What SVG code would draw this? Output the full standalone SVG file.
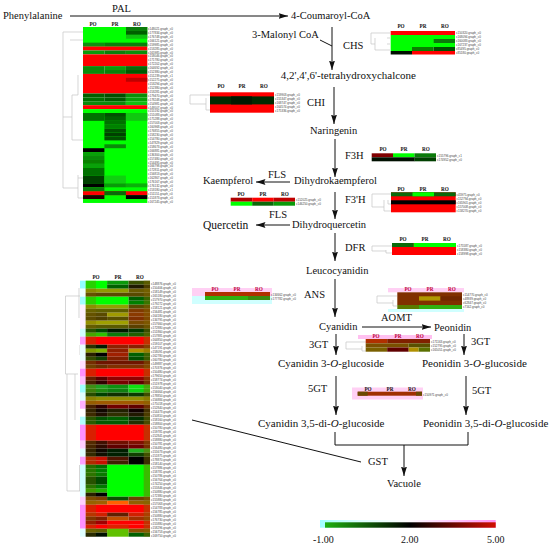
<svg xmlns="http://www.w3.org/2000/svg" width="550" height="547" viewBox="0 0 550 547">
<style>
text{font-family:"Liberation Serif","Times New Roman",serif;fill:#111}
.t{font-size:10.5px}
.g{font-size:11px}
.h{font-size:5.2px;font-weight:bold}
.p{font-size:5.2px;font-weight:bold;fill:#c00040}
.l{font-size:3px;font-family:"Liberation Sans",Arial,sans-serif;fill:#444}
.R{fill:#f00}.G{fill:#0f0}
.c{fill:none;stroke:#111;stroke-width:1}
.a{fill:none;stroke:#111;stroke-width:1;marker-end:url(#ah)}
.d{fill:none;stroke:#c4c4c4;stroke-width:.7}
</style>
<defs>
<marker id="ah" markerUnits="userSpaceOnUse" markerWidth="10" markerHeight="7" refX="9.5" refY="3" orient="auto"><path d="M0 0L9.5 3L0 6L1.5 3Z" fill="#111"/></marker>
<linearGradient id="lg"><stop offset="0" stop-color="#20b010"/><stop offset=".5" stop-color="#000"/><stop offset="1" stop-color="#d01000"/></linearGradient>
<linearGradient id="lt"><stop offset="0" stop-color="#a0ffff"/><stop offset=".24" stop-color="#e0ffff"/><stop offset=".5" stop-color="#fff"/><stop offset=".72" stop-color="#ffd0ff"/><stop offset="1" stop-color="#ff90f0"/></linearGradient>
</defs>

<g id="connectors">
<path class="a" d="M70 16H288"/>
<path class="c" d="M320 40L332 46"/>
<path class="a" d="M332 27V70"/>
<path class="a" d="M334 87V124"/>
<path class="a" d="M335 139V177"/>
<path class="a" d="M290 182H256"/>
<path class="a" d="M335 192V219"/>
<path class="a" d="M290 225H256"/>
<path class="a" d="M335 233V261"/>
<path class="a" d="M335 279V317"/>
<path class="a" d="M362 327H431"/>
<path class="a" d="M336 334V355"/>
<path class="a" d="M464 334V355"/>
<path class="a" d="M336 376V415"/>
<path class="a" d="M466 376V415"/>
<path class="c" d="M335 432V445H468V432"/>
<path class="a" d="M404 445V476"/>
<path class="c" d="M192 420L361 462"/>
</g>

<g id="labels">
<text class="t" x="3" y="19">Phenylalanine</text>
<text class="t" x="112" y="12">PAL</text>
<text class="t" x="291" y="19">4-Coumaroyl-CoA</text>
<text class="t" x="252" y="38">3-Malonyl CoA</text>
<text class="t" x="343" y="49">CHS</text>
<text class="g" x="416" y="79" text-anchor="end">4,2',4',6'-tetrahydroxychalcone</text>
<text class="t" x="307" y="106">CHI</text>
<text class="t" x="310" y="134">Naringenin</text>
<text class="t" x="345" y="159">F3H</text>
<text class="t" x="268" y="178">FLS</text>
<text class="t" x="203" y="184">Kaempferol</text>
<text class="t" x="294" y="184">Dihydrokaempferol</text>
<text class="t" x="345" y="203">F3'H</text>
<text class="t" x="269" y="218">FLS</text>
<text class="t" x="203" y="229" style="font-size:11.500px">Quercetin</text>
<text class="t" x="292" y="228">Dihydroquercetin</text>
<text class="t" x="345" y="251">DFR</text>
<text class="t" x="306" y="274">Leucocyanidin</text>
<text class="t" x="304" y="298">ANS</text>
<text class="t" x="381" y="321">AOMT</text>
<text class="t" x="319" y="330">Cyanidin</text>
<text class="t" x="434" y="331">Peonidin</text>
<text class="t" x="309" y="348">3GT</text>
<text class="t" x="471" y="345">3GT</text>
<text class="g" x="278" y="367">Cyanidin 3-<tspan font-style="italic">O</tspan>-glucoside</text>
<text class="g" x="422" y="367">Peonidin 3-<tspan font-style="italic">O</tspan>-glucoside</text>
<text class="t" x="308" y="392">5GT</text>
<text class="t" x="472" y="394">5GT</text>
<text class="g" x="258" y="427">Cyanidin 3,5-di-<tspan font-style="italic">O</tspan>-glucoside</text>
<text class="g" x="423" y="427">Peonidin 3,5-di-<tspan font-style="italic">O</tspan>-glucoside</text>
<text class="t" x="368" y="465">GST</text>
<text class="t" x="387" y="487">Vacuole</text>
</g>

<g id="hm-pal">
<path class="d" d="M83 32H63V188H78M70 40H83M63 117H72M72 95V140H83M72 95H78V75M78 178H83M78 175V198H83"/>
<text class="h" x="93" y="26" text-anchor="middle">PO</text><text class="h" x="115" y="26" text-anchor="middle">PR</text><text class="h" x="137" y="26" text-anchor="middle">RO</text>
<g transform="translate(83 27) scale(1 3.91)">
<rect class="G" width="64.3" height="5"/><rect x="43" width="21.3" height="1" fill="#0a7a0a"/><rect x="43" y="1" width="21.3" height="1" fill="#006000"/><rect x="43" y="2" width="21.3" height="1" fill="#10c010"/>
<rect y="4" width="21.4" height="1" fill="#109010"/><rect x="21.4" y="4" width="42.9" height="1" fill="#0a800a"/>
<rect class="R" y="5" width="64.3" height="1"/>
<rect y="6" width="21.4" height="1" fill="#0a9a0a"/><rect x="21.4" y="6" width="21.5" height="1" fill="#0a800a"/><rect x="42.9" y="6" width="21.4" height="1" fill="#0a900a"/>
<rect class="R" y="7" width="64.3" height="3"/>
<rect y="10" width="21.4" height="1" fill="#0a8a0a"/><rect x="21.4" y="10" width="21.5" height="1" fill="#0a9a0a"/><rect x="42.9" y="10" width="21.4" height="1" fill="#0a6a0a"/>
<rect y="11" width="21.4" height="1" fill="#0a8a0a"/><rect x="21.4" y="11" width="21.5" height="1" fill="#0a800a"/><rect x="42.9" y="11" width="21.4" height="1" fill="#005a00"/>
<rect class="R" y="12" width="64.3" height="5"/><rect x="42.9" y="13" width="21.4" height="1" fill="#c00000"/>
<rect y="17" width="21.4" height="1" fill="#006000"/><rect x="21.4" y="17" width="21.5" height="1" fill="#005000"/><rect x="42.9" y="17" width="21.4" height="1" fill="#0a900a"/>
<rect y="18" width="21.4" height="1" fill="#007000"/><rect x="21.4" y="18" width="21.5" height="1" fill="#005a00"/><rect x="42.9" y="18" width="21.4" height="1" fill="#0aa00a"/>
<rect y="19" width="42.9" height="1" fill="#0a8a0a"/><rect x="42.9" y="19" width="21.4" height="1" fill="#10c010"/>
<rect class="R" y="20" width="64.3" height="1"/>
<rect class="G" y="21" width="64.3" height="24"/>
<rect y="22" width="21.4" height="2" fill="#007000"/><rect x="21.4" y="22" width="21.5" height="1" fill="#005000"/><rect x="21.4" y="23" width="21.5" height="1" fill="#006000"/><rect x="42.9" y="22" width="21.4" height="2" fill="#10c810"/>
<rect x="21.4" y="24" width="21.5" height="1" fill="#007000"/><rect x="21.4" y="25" width="21.5" height="1" fill="#008000"/><rect x="21.4" y="26" width="21.5" height="1" fill="#005000"/><rect x="21.4" y="27" width="21.5" height="1" fill="#004000"/><rect x="21.4" y="28" width="21.5" height="1" fill="#005000"/><rect x="21.4" y="30" width="21.5" height="1" fill="#0a8a0a"/>
<rect y="31" width="21.4" height="1" fill="#000"/><rect y="32" width="21.4" height="1" fill="#0aa00a"/><rect y="33" width="21.4" height="1" fill="#0a8a0a"/><rect y="34" width="21.4" height="1" fill="#0a8000"/><rect y="35" width="21.4" height="1" fill="#0aa00a"/><rect y="36" width="21.4" height="2" fill="#007000"/><rect y="38" width="21.4" height="2" fill="#004000"/>
<rect x="21.4" y="38" width="21.5" height="2" fill="#10d010"/>
<rect y="40" width="21.4" height="1" fill="#000"/><rect x="21.4" y="40" width="21.5" height="1" fill="#0a9a0a"/><rect x="42.9" y="40" width="21.4" height="1" fill="#0ab00a"/>
<rect y="41" width="21.4" height="1" fill="#0a7a0a"/>
<rect class="R" y="42" width="64.3" height="1"/><rect x="21.4" y="42" width="21.5" height="1" fill="#0a6a0a"/>
<rect y="43" width="21.4" height="1" fill="#200000"/><rect x="42.9" y="43" width="21.4" height="1" fill="#000"/>
</g>
<text class="l" x="148" y="30">c148021.graph_c0</text><text class="l" x="148" y="34">c177834.graph_c0</text><text class="l" x="148" y="38">c176748.graph_c0</text><text class="l" x="148" y="42">c166121.graph_c0</text><text class="l" x="148" y="46">c159985.graph_c0</text><text class="l" x="148" y="50">c153285.graph_c0</text><text class="l" x="148" y="54">c165985.graph_c0</text><text class="l" x="148" y="57">c158046.graph_c0</text><text class="l" x="148" y="61">c171780.graph_c0</text><text class="l" x="148" y="65">c172202.graph_c0</text><text class="l" x="148" y="69">c164692.graph_c0</text><text class="l" x="148" y="73">c152380.graph_c0</text><text class="l" x="148" y="77">c151239.graph_c1</text><text class="l" x="148" y="81">c152275.graph_c0</text><text class="l" x="148" y="85">c153294.graph_c0</text><text class="l" x="148" y="89">c152380.graph_c0</text><text class="l" x="148" y="93">c153281.graph_c0</text><text class="l" x="148" y="97">c179470.graph_c0</text><text class="l" x="148" y="101">c178248.graph_c0</text><text class="l" x="148" y="105">c154981.graph_c0</text><text class="l" x="148" y="109">c149507.graph_c0</text><text class="l" x="148" y="112">c155192.graph_c0</text><text class="l" x="148" y="116">c151083.graph_c0</text><text class="l" x="148" y="120">c175288.graph_c0</text><text class="l" x="148" y="124">c157003.graph_c0</text><text class="l" x="148" y="128">c160968.graph_c0</text><text class="l" x="148" y="132">c176855.graph_c0</text><text class="l" x="148" y="136">c158230.graph_c0</text><text class="l" x="148" y="140">c154780.graph_c0</text><text class="l" x="148" y="144">c147829.graph_c0</text><text class="l" x="148" y="148">c158673.graph_c0</text><text class="l" x="148" y="152">c166881.graph_c0</text><text class="l" x="148" y="156">c136300.graph_c0</text><text class="l" x="148" y="160">c157480.graph_c0</text><text class="l" x="148" y="164">c154495.graph_c0</text><text class="l" x="148" y="167">c166798.graph_c0</text><text class="l" x="148" y="171">c172811.graph_c0</text><text class="l" x="148" y="175">c156813.graph_c0</text><text class="l" x="148" y="179">c162867.graph_c0</text><text class="l" x="148" y="183">c176167.graph_c0</text><text class="l" x="148" y="187">c176132.graph_c0</text><text class="l" x="148" y="191">c153180.graph_c1</text><text class="l" x="148" y="195">c151151.graph_c0</text><text class="l" x="148" y="199">c151873.graph_c0</text><text class="l" x="148" y="203">c167245.graph_c0</text>
</g>

<g id="hm-gst">
<path class="d" d="M80 296H65.500V374H78M67 374V491H80M79.500 465V491M79 288V318M80 345V355H84M75 374V420"/>
<text class="h" x="96" y="279" text-anchor="middle">PO</text><text class="h" x="118" y="279" text-anchor="middle">PR</text><text class="h" x="140" y="279" text-anchor="middle">RO</text>
<g transform="translate(80 280.700) scale(1 4)">
<rect width="5.700" height="2" fill="#90ffff"/><rect y="2" width="5.700" height="2" fill="#f0ffff"/><rect y="4" width="5.700" height="2" fill="#a0ffff"/><rect y="6" width="5.700" height="6" fill="#fff0ff"/><rect y="12" width="5.700" height="2" fill="#d0ffff"/><rect y="14" width="5.700" height="2" fill="#ffa0ff"/><rect y="16" width="5.700" height="4" fill="#e8ffff"/><rect y="20" width="5.700" height="2" fill="#ffe0ff"/><rect y="22" width="5.700" height="2" fill="#ff90ff"/><rect y="24" width="5.700" height="2" fill="#ffc0ff"/><rect y="26" width="5.700" height="2" fill="#a0ffff"/><rect y="28" width="5.700" height="2" fill="#e0ffff"/><rect y="30" width="5.700" height="2" fill="#ffb0ff"/><rect y="34" width="5.700" height="2" fill="#b0ffff"/><rect y="36" width="5.700" height="4" fill="#ff90ff"/><rect y="40" width="5.700" height="2" fill="#ffd0ff"/><rect y="42" width="5.700" height="2" fill="#e0ffff"/><rect y="44" width="5.700" height="2" fill="#ffa0ff"/><rect y="46" width="5.700" height="8" fill="#d0ffff"/><rect y="54" width="5.700" height="2" fill="#ffd0ff"/><rect y="56" width="5.700" height="6" fill="#ff90ff"/><rect y="62" width="5.700" height="2" fill="#e0ffff"/>
</g>
<g transform="translate(85.700 280.700) scale(1 4)">
<rect class="G" y="0" width="21.400" height="2"/><rect x="21.400" y="0" width="21.500" height="1" fill="#0a9a0a"/><rect x="42.900" y="0" width="21.400" height="1" fill="#3a5000"/>
<rect x="21.400" y="1" width="21.500" height="1" fill="#006000"/><rect x="42.900" y="1" width="21.400" height="1" fill="#201a00"/>
<rect y="2" width="42.900" height="1" fill="#909a00"/><rect x="42.900" y="2" width="21.400" height="1" fill="#6a5a00"/>
<rect y="3" width="64.300" height="1" fill="#5a4a00"/>
<rect class="G" y="4" width="42.900" height="2"/><rect x="42.900" y="4" width="21.400" height="1" fill="#006000"/><rect x="42.900" y="5" width="21.400" height="1" fill="#008000"/>
<rect y="6" width="42.900" height="1" fill="#90a000"/><rect x="42.900" y="6" width="21.400" height="1" fill="#5a4a00"/>
<rect y="7" width="42.900" height="1" fill="#606000"/><rect x="42.900" y="7" width="21.400" height="1" fill="#803a00"/>
<rect y="8" width="21.400" height="1" fill="#5a4a00"/><rect x="21.400" y="8" width="21.500" height="1" fill="#a09a00"/><rect x="42.900" y="8" width="21.400" height="1" fill="#8a3a00"/>
<rect y="9" width="21.400" height="1" fill="#504000"/><rect x="21.400" y="9" width="21.500" height="1" fill="#5a5000"/><rect x="42.900" y="9" width="21.400" height="1" fill="#803000"/>
<rect y="10" width="42.900" height="1" fill="#a0a000"/><rect x="42.900" y="10" width="21.400" height="1" fill="#7a4a00"/>
<rect y="11" width="42.900" height="1" fill="#5a5a00"/><rect x="42.900" y="11" width="21.400" height="1" fill="#5a4000"/>
<rect y="12" width="21.400" height="1" fill="#004a00"/><rect x="21.400" y="12" width="21.500" height="1" fill="#001a00"/><rect x="42.900" y="12" width="21.400" height="1" fill="#003a00"/>
<rect y="13" width="21.400" height="1" fill="#30c000"/><rect x="21.400" y="13" width="21.500" height="1" fill="#0a7a0a"/><rect x="42.900" y="13" width="21.400" height="1" fill="#206000"/>
<rect class="R" y="14" width="64.300" height="2"/>
<rect y="16" width="21.400" height="1" fill="#001a00"/><rect x="21.400" y="16" width="21.500" height="1" fill="#902000"/><rect x="42.900" y="16" width="21.400" height="1" fill="#8a2000"/>
<rect y="17" width="21.400" height="1" fill="#80b000"/><rect x="21.400" y="17" width="21.500" height="1" fill="#902000"/><rect x="42.900" y="17" width="21.400" height="1" fill="#b09000"/>
<rect y="18" width="21.400" height="1" fill="#000"/><rect x="21.400" y="18" width="21.500" height="1" fill="#a02000"/><rect x="42.900" y="18" width="21.400" height="1" fill="#006000"/>
<rect y="19" width="21.400" height="1" fill="#104000"/><rect x="21.400" y="19" width="21.500" height="1" fill="#802000"/><rect x="42.900" y="19" width="21.400" height="1" fill="#005000"/>
<rect y="20" width="64.300" height="1" fill="#701500"/>
<rect y="21" width="21.400" height="1" fill="#6a3000"/><rect x="21.400" y="21" width="42.900" height="1" fill="#803000"/>
<rect class="R" y="22" width="64.300" height="2"/>
<rect y="24" width="21.400" height="1" fill="#5a0000"/><rect x="21.400" y="24" width="42.900" height="1" fill="#900000"/>
<rect y="25" width="21.400" height="1" fill="#300000"/><rect x="21.400" y="25" width="21.500" height="1" fill="#7a0000"/><rect x="42.900" y="25" width="21.400" height="1" fill="#600000"/>
<rect y="26" width="21.400" height="1" fill="#20a020"/><rect x="21.400" y="26" width="21.500" height="1" fill="#109010"/><rect x="42.900" y="26" width="21.400" height="1" fill="#10e010"/>
<rect y="27" width="21.400" height="1" fill="#208a10"/><rect x="21.400" y="27" width="21.500" height="1" fill="#108010"/><rect x="42.900" y="27" width="21.400" height="1" fill="#10d010"/>
<rect y="28" width="21.400" height="1" fill="#004000"/><rect x="21.400" y="28" width="21.500" height="1" fill="#103000"/><rect x="42.900" y="28" width="21.400" height="1" fill="#0a3a00"/>
<rect y="29" width="64.300" height="1" fill="#8e8e00"/>
<rect y="30" width="64.300" height="1" fill="#a05a00"/>
<rect y="31" width="21.400" height="1" fill="#300000"/><rect x="21.400" y="31" width="21.500" height="1" fill="#700000"/><rect x="42.900" y="31" width="21.400" height="1" fill="#600000"/>
<rect y="32" width="21.400" height="1" fill="#100800"/><rect x="21.400" y="32" width="21.500" height="1" fill="#202000"/><rect x="42.900" y="32" width="21.400" height="1" fill="#100000"/>
<rect y="33" width="21.400" height="1" fill="#201000"/><rect x="21.400" y="33" width="21.500" height="1" fill="#303000"/><rect x="42.900" y="33" width="21.400" height="1" fill="#201800"/>
<rect y="34" width="21.400" height="1" fill="#005000"/><rect x="21.400" y="34" width="21.500" height="1" fill="#006000"/><rect x="42.900" y="34" width="21.400" height="1" fill="#003000"/>
<rect y="35" width="42.900" height="1" fill="#005a00"/><rect x="42.900" y="35" width="21.400" height="1" fill="#203000"/>
<rect class="R" y="36" width="64.300" height="4"/>
<rect y="40" width="21.400" height="1" fill="#401000"/><rect x="21.400" y="40" width="21.500" height="1" fill="#701000"/><rect x="42.900" y="40" width="21.400" height="1" fill="#801000"/>
<rect y="41" width="21.400" height="1" fill="#300a00"/><rect x="21.400" y="41" width="21.500" height="1" fill="#600000"/><rect x="42.900" y="41" width="21.400" height="1" fill="#700000"/>
<rect y="42" width="21.400" height="1" fill="#100800"/><rect x="21.400" y="42" width="21.500" height="1" fill="#002000"/><rect x="42.900" y="42" width="21.400" height="1" fill="#20b020"/>
<rect y="43" width="21.400" height="1" fill="#101000"/><rect x="21.400" y="43" width="21.500" height="1" fill="#002000"/><rect x="42.900" y="43" width="21.400" height="1" fill="#104000"/>
<rect y="44" width="21.400" height="1" fill="#c81000"/><rect x="21.400" y="44" width="21.500" height="1" fill="#501500"/><rect x="42.900" y="44" width="21.400" height="2" fill="#000"/>
<rect y="45" width="21.400" height="1" fill="#c81000"/><rect x="21.400" y="45" width="21.500" height="1" fill="#402000"/>
<rect class="G" x="21.400" y="46" width="42.900" height="8"/>
<rect y="46" width="21.400" height="1" fill="#007000"/><rect y="47" width="21.400" height="1" fill="#008000"/><rect y="48" width="21.400" height="1" fill="#0a7a00"/><rect y="49" width="21.400" height="2" fill="#004a00"/><rect y="51" width="21.400" height="1" fill="#007a00"/><rect y="52" width="21.400" height="1" fill="#20b000"/><rect y="53" width="21.400" height="1" fill="#000"/>
<rect y="54" width="21.400" height="1" fill="#7a4000"/><rect x="21.400" y="54" width="21.500" height="1" fill="#0a5000"/><rect x="42.900" y="54" width="21.400" height="1" fill="#6a4000"/>
<rect y="55" width="21.400" height="1" fill="#a06000"/><rect x="21.400" y="55" width="21.500" height="1" fill="#ff6000"/><rect x="42.900" y="55" width="21.400" height="1" fill="#906000"/>
<rect class="R" y="56" width="64.300" height="2"/>
<rect y="58" width="21.400" height="1" fill="#d02000"/><rect x="21.400" y="58" width="21.500" height="1" fill="#602000"/><rect x="42.900" y="58" width="21.400" height="1" fill="#d02000"/>
<rect y="59" width="21.400" height="1" fill="#802000"/><rect x="21.400" y="59" width="21.500" height="1" fill="#c05000"/><rect x="42.900" y="59" width="21.400" height="1" fill="#a03000"/>
<rect y="60" width="21.400" height="1" fill="#a00000"/><rect class="R" x="21.400" y="60" width="42.900" height="1"/>
<rect class="R" y="61" width="64.300" height="1"/><rect x="21.400" y="61" width="21.500" height="1" fill="#e02000"/>
<rect y="62" width="21.400" height="1" fill="#606000"/><rect x="21.400" y="62" width="21.500" height="2" fill="#60c000"/><rect x="42.900" y="62" width="21.400" height="1" fill="#8a5000"/>
<rect y="63" width="21.400" height="1" fill="#001000"/><rect x="42.900" y="63" width="21.400" height="1" fill="#006000"/>
<rect width="10.300" height="64" fill="#806800" opacity=".3"/><rect x="58" width="6.300" height="64" fill="#806800" opacity=".45"/>
</g>
<text class="l" x="151" y="285">c148876.graph_c0</text><text class="l" x="151" y="289">c150406.graph_c0</text><text class="l" x="151" y="293">c158149.graph_c0</text><text class="l" x="151" y="297">c165180.graph_c0</text><text class="l" x="151" y="301">c157970.graph_c0</text><text class="l" x="151" y="305">c179272.graph_c0</text><text class="l" x="151" y="309">c158121.graph_c0</text><text class="l" x="151" y="313">c156481.graph_c0</text><text class="l" x="151" y="317">c164180.graph_c0</text><text class="l" x="151" y="321">c134795.graph_c0</text><text class="l" x="151" y="325">c157660.graph_c0</text><text class="l" x="151" y="329">c172880.graph_c0</text><text class="l" x="151" y="333">c151860.graph_c0</text><text class="l" x="151" y="337">c157881.graph_c0</text><text class="l" x="151" y="341">c164850.graph_c0</text><text class="l" x="151" y="345">c159107.graph_c0</text><text class="l" x="151" y="349">c147191.graph_c0</text><text class="l" x="151" y="353">c158091.graph_c0</text><text class="l" x="151" y="357">c162780.graph_c0</text><text class="l" x="151" y="361">c160780.graph_c0</text><text class="l" x="151" y="365">c149887.graph_c0</text><text class="l" x="151" y="369">c170376.graph_c0</text><text class="l" x="151" y="373">c150480.graph_c0</text><text class="l" x="151" y="377">c179650.graph_c0</text><text class="l" x="151" y="381">c158774.graph_c0</text><text class="l" x="151" y="385">c151978.graph_c0</text><text class="l" x="151" y="389">c153040.graph_c0</text><text class="l" x="151" y="393">c156664.graph_c0</text><text class="l" x="151" y="397">c178850.graph_c0</text><text class="l" x="151" y="401">c156884.graph_c0</text><text class="l" x="151" y="405">c175018.graph_c0</text><text class="l" x="151" y="409">c152840.graph_c0</text><text class="l" x="151" y="413">c154473.graph_c0</text><text class="l" x="151" y="417">c150810.graph_c0</text><text class="l" x="151" y="421">c158160.graph_c0</text><text class="l" x="151" y="425">c158800.graph_c0</text><text class="l" x="151" y="429">c150780.graph_c0</text><text class="l" x="151" y="433">c159781.graph_c0</text><text class="l" x="151" y="437">c152841.graph_c0</text><text class="l" x="151" y="441">c158880.graph_c0</text><text class="l" x="151" y="445">c150781.graph_c0</text><text class="l" x="151" y="449">c156480.graph_c0</text><text class="l" x="151" y="453">c155673.graph_c0</text><text class="l" x="151" y="457">c151875.graph_c0</text><text class="l" x="151" y="461">c178870.graph_c0</text><text class="l" x="151" y="465">c158140.graph_c0</text><text class="l" x="151" y="469">c157886.graph_c0</text><text class="l" x="151" y="473">c158781.graph_c1</text><text class="l" x="151" y="477">c150786.graph_c0</text><text class="l" x="151" y="481">c156764.graph_c0</text><text class="l" x="151" y="485">c174250.graph_c0</text><text class="l" x="151" y="489">c155846.graph_c0</text><text class="l" x="151" y="493">c150880.graph_c0</text><text class="l" x="151" y="497">c172380.graph_c0</text><text class="l" x="151" y="501">c155880.graph_c0</text><text class="l" x="151" y="505">c157063.graph_c0</text><text class="l" x="151" y="509">c154783.graph_c0</text><text class="l" x="151" y="513">c156785.graph_c0</text><text class="l" x="151" y="517">c150880.graph_c0</text><text class="l" x="151" y="521">c176730.graph_c0</text><text class="l" x="151" y="525">c155880.graph_c0</text><text class="l" x="151" y="529">c158296.graph_c0</text><text class="l" x="151" y="533">c156753.graph_c0</text><text class="l" x="151" y="537">c169750.graph_c0</text>
</g>

<g id="hm-chs">
<path class="d" d="M390 33H371V44H375M375 38V50H390M387 38H390M387 44H390"/>
<text class="h" x="401" y="28" text-anchor="middle">PO</text><text class="h" x="423" y="28" text-anchor="middle">PR</text><text class="h" x="445" y="28" text-anchor="middle">RO</text>
<rect class="R" x="390.700" y="31" width="64.300" height="4"/><rect class="G" x="390.700" y="35" width="64.300" height="12"/><rect x="433.700" y="39" width="21.300" height="4" fill="#0a7a0a"/>
<rect x="412" y="47" width="21.700" height="4" fill="#0a8000"/><rect x="433.700" y="47" width="21.300" height="4" fill="#005000"/><rect class="G" x="390.700" y="47" width="21.300" height="4"/>
<rect x="390.700" y="51" width="21.300" height="3.500" fill="#001000"/><rect class="R" x="412" y="51" width="43" height="3.500"/>
<text class="l" x="456" y="34">c150320.graph_c0</text><text class="l" x="456" y="38">c168094.graph_c0</text><text class="l" x="456" y="42">c160083.graph_c0</text><text class="l" x="456" y="46">c167237.graph_c0</text><text class="l" x="456" y="50">c85495.graph_c0</text><text class="l" x="456" y="54">c85180.graph_c0</text>
</g>

<g id="hm-chi">
<path class="d" d="M210 95H190V104H206M206 98V110H210"/>
<text class="h" x="221" y="88" text-anchor="middle">PO</text><text class="h" x="242" y="88" text-anchor="middle">PR</text><text class="h" x="264" y="88" text-anchor="middle">RO</text>
<rect class="R" x="210" y="92.300" width="64" height="20.400"/><rect x="210" y="96.400" width="64" height="8" fill="#002a00"/><rect x="231" y="96.400" width="21" height="8" fill="#001a00"/>
<text class="l" x="275" y="96">c159903.graph_c0</text><text class="l" x="275" y="100">c155347.graph_c0</text><text class="l" x="275" y="104">c168747.graph_c0</text><text class="l" x="275" y="108">c164574.graph_c0</text><text class="l" x="275" y="112">c175336.graph_c0</text>
</g>

<g id="hm-f3h">
<text class="h" x="383" y="151" text-anchor="middle">PO</text><text class="h" x="404" y="151" text-anchor="middle">PR</text><text class="h" x="426" y="151" text-anchor="middle">RO</text>
<rect x="371.700" y="153.300" width="21.300" height="4" fill="#800000"/><rect class="G" x="393" y="153.300" width="21.500" height="4"/><rect x="414.500" y="153.300" width="21.500" height="4" fill="#0a7a0a"/>
<rect x="371.700" y="157.300" width="43" height="4" fill="#001000"/><rect x="414.500" y="157.300" width="21.500" height="4" fill="#004000"/>
<text class="l" x="437" y="157">c155796.graph_c1</text><text class="l" x="437" y="161">c174952.graph_c0</text>
</g>

<g id="hm-fls">
<text class="h" x="241" y="196" text-anchor="middle">PO</text><text class="h" x="263" y="196" text-anchor="middle">PR</text><text class="h" x="285" y="196" text-anchor="middle">RO</text>
<rect x="230.700" y="197.700" width="21.500" height="4" fill="#b00000"/><rect class="R" x="252.200" y="197.700" width="21.500" height="4"/><rect x="273.700" y="197.700" width="21.300" height="4" fill="#c00000"/>
<rect class="G" x="230.700" y="201.700" width="21.500" height="4"/><rect x="252.200" y="201.700" width="21.500" height="4" fill="#0a6a0a"/><rect x="273.700" y="201.700" width="21.300" height="4" fill="#0a9a0a"/>
<text class="l" x="296" y="201">c152025.graph_c0</text><text class="l" x="296" y="205">c146250.graph_c0</text>
</g>

<g id="hm-f3h2">
<path class="d" d="M391 194H372V207H384M384 200V211H391M388 200V204H391"/>
<text class="h" x="401" y="191" text-anchor="middle">PO</text><text class="h" x="423" y="191" text-anchor="middle">PR</text><text class="h" x="445" y="191" text-anchor="middle">RO</text>
<rect class="R" x="391" y="192.300" width="64.700" height="20"/><rect x="391" y="192.300" width="64.700" height="4" fill="#0a6a0a"/><rect class="G" x="412.500" y="192.300" width="21.500" height="4"/><rect x="391" y="200.300" width="64.700" height="4" fill="#000"/>
<text class="l" x="456.500" y="196">c45975.graph_c0</text><text class="l" x="456.500" y="200">c152794.graph_c0</text><text class="l" x="456.500" y="204">c165901.graph_c0</text><text class="l" x="456.500" y="208">c157008.graph_c0</text><text class="l" x="456.500" y="212">c158270.graph_c0</text>
</g>

<g id="hm-dfr">
<path class="d" d="M392 246H372V251H386M386 250V253H392"/>
<text class="h" x="403" y="241" text-anchor="middle">PO</text><text class="h" x="425" y="241" text-anchor="middle">PR</text><text class="h" x="447" y="241" text-anchor="middle">RO</text>
<rect class="R" x="392" y="243" width="64" height="12"/><rect class="G" x="413.500" y="243" width="42.500" height="4"/><rect x="392" y="243" width="21.500" height="4" fill="#0a6a0a"/>
<text class="l" x="457" y="247">c175587.graph_c0</text><text class="l" x="457" y="251">c158380.graph_c0</text><text class="l" x="457" y="255">c158998.graph_c0</text>
</g>

<g id="hm-ans">
<rect x="192" y="288" width="80" height="8" fill="#ffd0f4"/><rect x="192" y="296" width="80" height="8" fill="#d0ffff"/>
<text class="p" x="215" y="291" text-anchor="middle">PO</text><text class="p" x="237" y="291" text-anchor="middle">PR</text><text class="p" x="259" y="291" text-anchor="middle">RO</text>
<rect x="205" y="292" width="65" height="4" fill="#b03000"/><rect x="205" y="296" width="43" height="4" fill="#30b010"/><rect x="248" y="296" width="22" height="4" fill="#3a8a10"/>
<text class="l" x="271" y="296">c134662.graph_c0</text><text class="l" x="271" y="300">c177782.graph_c0</text>
</g>

<g id="hm-aomt">
<rect x="388" y="288" width="76" height="4.300" fill="#ffd0f4"/><rect x="388" y="309" width="76" height="3" fill="#d0ffff"/>
<path class="d" d="M397 296H377V303H393M393 300V306H397"/>
<text class="p" x="408" y="291" text-anchor="middle">PO</text><text class="p" x="430" y="291" text-anchor="middle">PR</text><text class="p" x="452" y="291" text-anchor="middle">RO</text>
<rect x="397.300" y="292.300" width="64.700" height="12.700" fill="#803000"/><rect x="419" y="296.300" width="21.500" height="4.300" fill="#b09800"/><rect x="440.500" y="296.300" width="21.500" height="4.300" fill="#702800"/>
<rect x="397.300" y="305" width="21.700" height="4" fill="#5a7a00"/><rect x="419" y="305" width="43" height="4" fill="#30b010"/>
<text class="l" x="463" y="296">c114770.graph_c0</text><text class="l" x="463" y="300">c48939.graph_c0</text><text class="l" x="463" y="304">c62847.graph_c0</text><text class="l" x="463" y="308">c7162.graph_c0</text>
</g>

<g id="hm-3gt">
<rect x="358" y="335" width="74" height="4" fill="#ffc0f0"/>
<path class="d" d="M366 342H346V349H362M362 346V351H366"/>
<text class="p" x="376" y="338" text-anchor="middle">PO</text><text class="p" x="398" y="338" text-anchor="middle">PR</text><text class="p" x="420" y="338" text-anchor="middle">RO</text>
<rect x="365.700" y="339" width="21.500" height="4.300" fill="#b03000"/><rect x="387.200" y="339" width="42.800" height="4.300" fill="#802000"/>
<rect x="365.700" y="343.300" width="43" height="4.200" fill="#7a5000"/><rect x="408.700" y="343.300" width="21.300" height="4.200" fill="#5a5000"/>
<rect x="365.700" y="347.500" width="21.500" height="4.200" fill="#7a6000"/><rect x="387.200" y="347.500" width="21.500" height="4.200" fill="#600000"/><rect x="408.700" y="347.500" width="10" height="4.200" fill="#b09000"/><rect x="418.700" y="347.500" width="11.300" height="4.200" fill="#5a7000"/>
<text class="l" x="431" y="343">c171163.graph_c0</text><text class="l" x="431" y="347">c152795.graph_c0</text><text class="l" x="431" y="351">c165051.graph_c0</text>
</g>

<g id="hm-5gt">
<rect x="352" y="387.500" width="71" height="12" fill="#ffd0f4"/>
<text class="h" x="368" y="390.500" text-anchor="middle">PO</text><text class="h" x="390" y="390.500" text-anchor="middle">PR</text><text class="h" x="412" y="390.500" text-anchor="middle">RO</text>
<rect x="357.700" y="391.700" width="64.300" height="4" fill="#a03000"/><rect x="357.700" y="391.700" width="10" height="4" fill="#6a4a00"/><rect x="416" y="391.700" width="6" height="4" fill="#6a4a00"/>
<text class="l" x="423" y="395.500">c150971.graph_c0</text>
</g>

<g id="legend">
<rect x="320" y="520" width="175.700" height="7.700" fill="url(#lt)"/>
<rect x="325" y="522.300" width="170.700" height="5.400" fill="url(#lg)"/>
<text class="t" x="313" y="543" style="font-size:10px">-1.00</text>
<text class="t" x="401" y="543" style="font-size:10px">2.00</text>
<text class="t" x="487" y="543" style="font-size:10px">5.00</text>
</g>
</svg>
